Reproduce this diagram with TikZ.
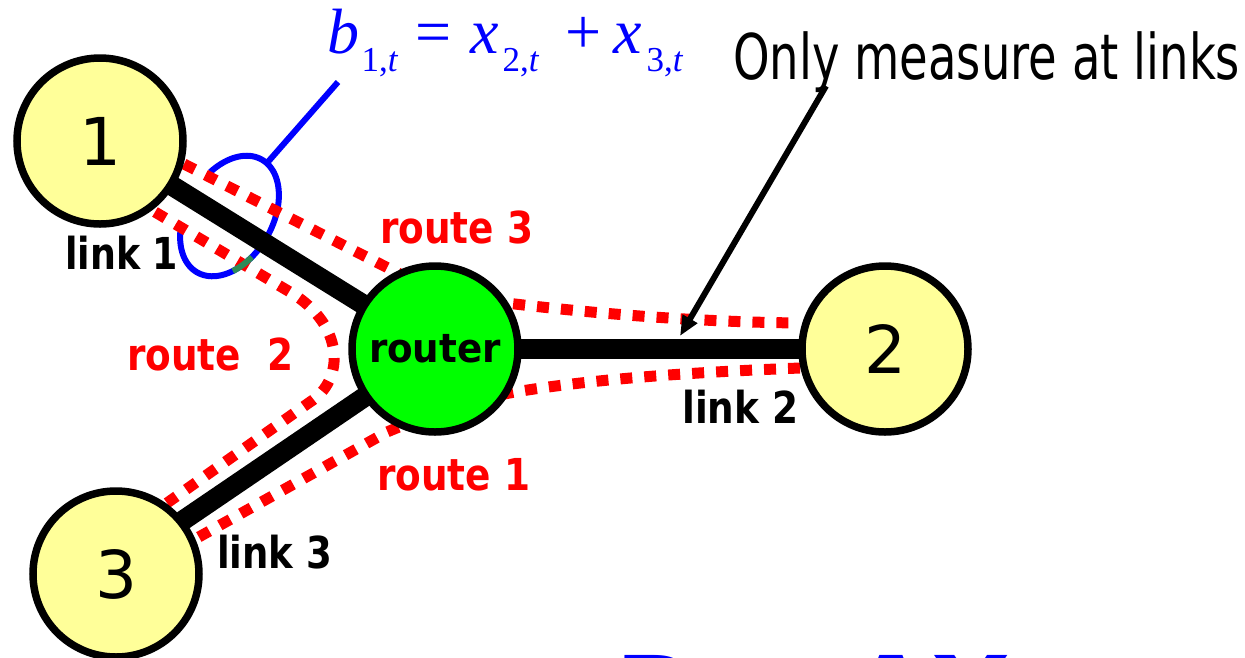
\documentclass[tikz,border=0pt]{standalone}
\usepackage{fontspec}
\setmainfont{DejaVu Sans}
\newfontfamily\tms{Liberation Serif}
\usetikzlibrary{arrows.meta}
\pgfdeclarelayer{bg}
\pgfsetlayers{bg,main}
\definecolor{nodeyellow}{RGB}{255,255,153}
\definecolor{routergreen}{RGB}{0,255,0}
\definecolor{lassogreen}{RGB}{46,139,87}
\newcommand{\fitw}[2]{\resizebox{#1}{\height}{#2}}
\newcommand{\putat}[3]{\makebox[0pt][l]{\hspace*{#1}\raisebox{#2}{#3}}}
\newcommand{\fsub}[1]{\fontsize{35}{35}\selectfont #1}
\begin{document}
\begin{tikzpicture}[x=1pt,y=-1pt,
  host/.style={circle, draw=black, line width=7.5pt, fill=nodeyellow, minimum size=166pt, inner sep=0pt, font=\fontsize{66}{66}\selectfont},
  rtr/.style={host, fill=routergreen, font=\fontsize{40}{40}\selectfont\bfseries},
  link/.style={line width=20pt, black},
  route/.style={red, line width=11pt, dash pattern=on 12pt off 12pt},
  lbl/.style={anchor=base west, inner sep=0pt, font=\fontsize{44}{44}\selectfont\bfseries},
  rlbl/.style={lbl, text=red},
  lasso/.style={blue, line width=6pt},
  pointer/.style={black, line width=6pt, -{Triangle[length=20pt,width=16pt]}},
]
\clip (0,0) rectangle (1245,657);

% nodes
\node[host] (n1) at (100,141) {1};
\node[host] (n2) at (885,349) {2};
\node[host] (n3) at (116,574) {3};
\node[rtr]  (r)  at (435,349) {\fitw{132pt}{router}};

\begin{pgfonlayer}{bg}
  \fill[white] (0,0) rectangle (1245,657);
  % measurement lasso around link 1
  \draw[lasso] plot[domain=-64:234, samples=90, variable=\t]
    ({229.5 + 32.5*cos(\t) + 37.2*sin(\t)}, {216 - 56.3*cos(\t) + 21.5*sin(\t)});
  % routes
  \draw[route] (184,164) -- (392,270) .. controls (430,290) and (470,299) .. (515,304)
        .. controls (600,314) and (700,322) .. (800,323);
  \draw[route] (155,212) -- (290,292) .. controls (345,325) and (345,380) .. (310,402) -- (167,503);
  \draw[route] (800,368) .. controls (700,372) and (600,378) .. (515,392)
        .. controls (470,400) and (420,418) .. (387,432) -- (197,538);
  % links
  \draw[link] (n1.center) -- (r.center);
  \draw[link] (r.center) -- (n2.center);
  \draw[link] (r.center) -- ([yshift=8pt]n3.center);
\end{pgfonlayer}

% green part of lasso
\draw[lassogreen, line width=6pt] plot[domain=112:135, samples=12, variable=\t]
    ({229.5 + 32.5*cos(\t) + 37.2*sin(\t)}, {216 - 56.3*cos(\t) + 21.5*sin(\t)});

% formula and its pointer
\coordinate (lassoTop) at (267,163);
\coordinate (fmlFoot) at (338,82);
\draw[lasso] (lassoTop) -- (fmlFoot);
\node[anchor=base west, inner sep=0pt, text=blue, font=\tms\fontsize{64}{64}\selectfont] (fml) at (327,53)
  {\putat{0pt}{0pt}{\itshape b}\putat{34pt}{-18pt}{\fsub{1,\itshape t}}\putat{88pt}{0pt}{=}\putat{143pt}{0pt}{\itshape x}\putat{175pt}{-18pt}{\fsub{2,\itshape t}}\putat{238pt}{0pt}{+}\putat{286pt}{0pt}{\itshape x}\putat{319pt}{-18pt}{\fsub{3,\itshape t}}};

% annotation
\node[anchor=base west, inner sep=0pt] (oml) at (733,79) {\fitw{507pt}{\fontsize{63}{63}\selectfont Only measure at links}};
\coordinate (omlTail) at (826,86);
\coordinate (omlTip) at (680,336);
\draw[pointer] (omlTail) -- (omlTip);

% labels
\node[lbl] (l1) at (65,269) {\fitw{113pt}{link 1}};
\node[lbl] (l2) at (682,423) {\fitw{116pt}{link 2}};
\node[lbl] (l3) at (217,568) {\fitw{115pt}{link 3}};
\node[rlbl] (r3) at (380,243) {\fitw{153pt}{route 3}};
\node[rlbl] (r2) at (127,370) {\fitw{166pt}{route~~2}};
\node[rlbl] (r1) at (377,490) {\fitw{153pt}{route 1}};

% bottom equation, mostly cut off
\node[anchor=base west, inner sep=0pt, text=blue, font=\fontsize{103}{103}\selectfont\bfseries] (beq) at (615,730) {B = AX};
\end{tikzpicture}
\end{document}
